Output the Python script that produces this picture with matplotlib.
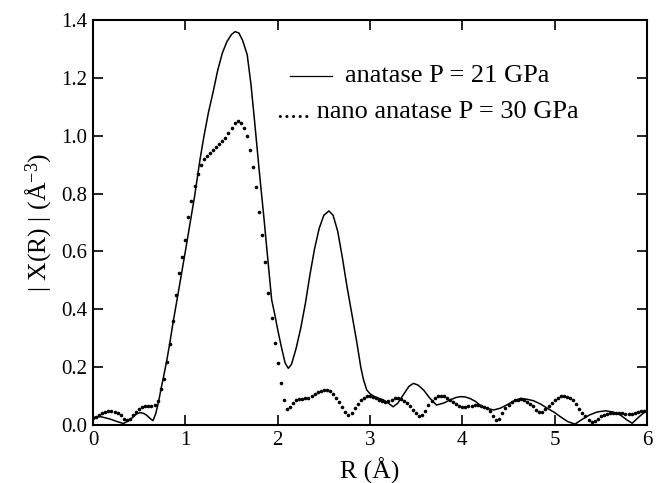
import numpy as np
import matplotlib
matplotlib.use("Agg")
import matplotlib.pyplot as plt

plt.rcParams['font.family'] = ['Liberation Serif', 'DejaVu Serif']
plt.rcParams['mathtext.fontset'] = 'custom'
plt.rcParams['mathtext.rm'] = 'Liberation Serif'
plt.rcParams['mathtext.it'] = 'Liberation Serif:italic'

# anatase P = 21 GPa (solid)
r_solid = [0.00, 0.08, 0.18, 0.26, 0.33, 0.40, 0.47, 0.51, 0.55, 0.58, 0.62, 0.65,
           0.68, 0.71, 0.74, 0.76, 0.80, 0.83, 0.87, 0.91, 1.00, 1.10, 1.16, 1.20,
           1.25, 1.30, 1.35, 1.40, 1.45, 1.50, 1.54, 1.58, 1.62, 1.67, 1.71, 1.75,
           1.80, 1.85, 1.90, 1.935, 1.97, 2.00, 2.04, 2.08, 2.115, 2.15, 2.20, 2.25,
           2.30, 2.35, 2.40, 2.45, 2.50, 2.555, 2.60, 2.65, 2.70, 2.75, 2.80, 2.855,
           2.90, 2.93, 2.965, 3.00, 3.05, 3.10, 3.145, 3.20, 3.25, 3.30, 3.36, 3.42,
           3.47, 3.52, 3.58, 3.65, 3.72, 3.80, 3.87, 3.93, 3.98, 4.03, 4.08, 4.14,
           4.19, 4.26, 4.34, 4.41, 4.48, 4.55, 4.63, 4.70, 4.77, 4.85, 4.92, 5.00,
           5.06, 5.14, 5.22, 5.30, 5.38, 5.46, 5.55, 5.63, 5.71, 5.78, 5.84, 5.92, 6.00]
chi_solid = [0.026, 0.029, 0.021, 0.012, 0.005, 0.018, 0.038, 0.043, 0.040, 0.034, 0.022, 0.015,
             0.040, 0.080, 0.130, 0.160, 0.225, 0.280, 0.360, 0.433, 0.600, 0.790, 0.920, 0.995,
             1.080, 1.150, 1.225, 1.285, 1.325, 1.350, 1.360, 1.355, 1.330, 1.280, 1.180, 1.050,
             0.880, 0.720, 0.550, 0.433, 0.380, 0.330, 0.270, 0.215, 0.196, 0.210, 0.265, 0.335,
             0.420, 0.520, 0.610, 0.680, 0.725, 0.740, 0.725, 0.670, 0.580, 0.480, 0.390, 0.290,
             0.200, 0.156, 0.121, 0.108, 0.098, 0.092, 0.087, 0.075, 0.063, 0.075, 0.104, 0.133,
             0.144, 0.138, 0.121, 0.092, 0.069, 0.076, 0.087, 0.095, 0.098, 0.097, 0.092, 0.082,
             0.069, 0.058, 0.052, 0.058, 0.069, 0.082, 0.092, 0.089, 0.084, 0.072, 0.058, 0.043,
             0.029, 0.012, 0.003, 0.020, 0.035, 0.045, 0.049, 0.045, 0.035, 0.018, 0.006, 0.030, 0.052]

# nano anatase P = 30 GPa (dots), sampled every 1/30 Angstrom
r_dots = np.arange(181) / 30.0
chi_dots = [0.023, 0.028, 0.033, 0.040, 0.045, 0.048, 0.048, 0.046, 0.042, 0.033,
            0.022, 0.017, 0.022, 0.033, 0.046, 0.055, 0.062, 0.065, 0.066, 0.066,
            0.068, 0.082, 0.125, 0.160, 0.217, 0.280, 0.360, 0.450, 0.525, 0.580,
            0.640, 0.720, 0.775, 0.825, 0.868, 0.898, 0.918, 0.930, 0.940, 0.950,
            0.960, 0.970, 0.980, 0.993, 1.010, 1.028, 1.044, 1.050, 1.043, 1.025,
            0.998, 0.950, 0.893, 0.822, 0.738, 0.658, 0.565, 0.458, 0.370, 0.285,
            0.216, 0.145, 0.088, 0.054, 0.062, 0.075, 0.087, 0.090, 0.091, 0.092,
            0.094, 0.100, 0.107, 0.113, 0.118, 0.122, 0.122, 0.117, 0.108, 0.095,
            0.078, 0.063, 0.046, 0.036, 0.042, 0.058, 0.072, 0.085, 0.095, 0.101,
            0.100, 0.096, 0.092, 0.087, 0.083, 0.081, 0.083, 0.088, 0.092, 0.093,
            0.090, 0.084, 0.075, 0.066, 0.052, 0.040, 0.032, 0.035, 0.050, 0.068,
            0.082, 0.092, 0.099, 0.101, 0.099, 0.093, 0.087, 0.080, 0.073, 0.067,
            0.063, 0.062, 0.064, 0.067, 0.069, 0.069, 0.066, 0.062, 0.058, 0.048,
            0.032, 0.018, 0.022, 0.040, 0.058, 0.070, 0.079, 0.085, 0.088, 0.089,
            0.086, 0.080, 0.074, 0.064, 0.053, 0.044, 0.046, 0.055, 0.066, 0.076,
            0.087, 0.095, 0.100, 0.101, 0.098, 0.093, 0.086, 0.072, 0.057, 0.043,
            0.030, 0.018, 0.011, 0.013, 0.022, 0.031, 0.036, 0.039, 0.041, 0.042,
            0.043, 0.042, 0.040, 0.039, 0.038, 0.039, 0.041, 0.044, 0.047, 0.050,
            0.052]

x_ticks = [0, 1, 2, 3, 4, 5, 6]
y_ticks = [0.0, 0.2, 0.4, 0.6, 0.8, 1.0, 1.2, 1.4]
legend_labels = ["anatase P = 21 GPa", "..... nano anatase P = 30 GPa"]

fig = plt.figure(figsize=(6.67, 4.83), dpi=100)
ax = fig.add_axes([93/667, 1-425/483, (647-93)/667, (425-20)/483])

ax.plot(r_solid, chi_solid, color='black', lw=1.1, clip_on=True)
ax.plot(r_dots, chi_dots, linestyle='none', marker='o', markersize=2.6,
        color='black', markeredgewidth=0, clip_on=True)

ax.set_xlim(0, 6)
ax.set_ylim(0, 1.4)
ax.set_xticks(x_ticks)
ax.set_xticklabels([str(t) for t in x_ticks])
ax.set_yticks(y_ticks)
ax.set_yticklabels(["%.1f" % t for t in y_ticks])
ax.tick_params(direction='in', length=7, width=1.2, top=True, right=True,
               labelsize=15, pad=4, colors='black')
ax.tick_params(axis='x', pad=4)
for s in ax.spines.values():
    s.set_linewidth(1.5)

ax.set_xlabel("R (Å)", fontsize=18.5, labelpad=6)
ax.set_ylabel("| X(R) | (Å$^{-3}$)", fontsize=18.5, labelpad=5)

# legend drawn as text, like the original annotation
ax.plot([(290-93)/554, (332-93)/554], [(425-76)/405]*2, transform=ax.transAxes,
        color='black', lw=0.9)
ax.text((345-93)/554, (425-76)/405, legend_labels[0], transform=ax.transAxes,
        fontsize=19, va='center', ha='left')
ax.text((277-93)/554, (425-112)/405, legend_labels[1], transform=ax.transAxes,
        fontsize=19, va='center', ha='left')

fig.savefig("out.png", dpi=100)
